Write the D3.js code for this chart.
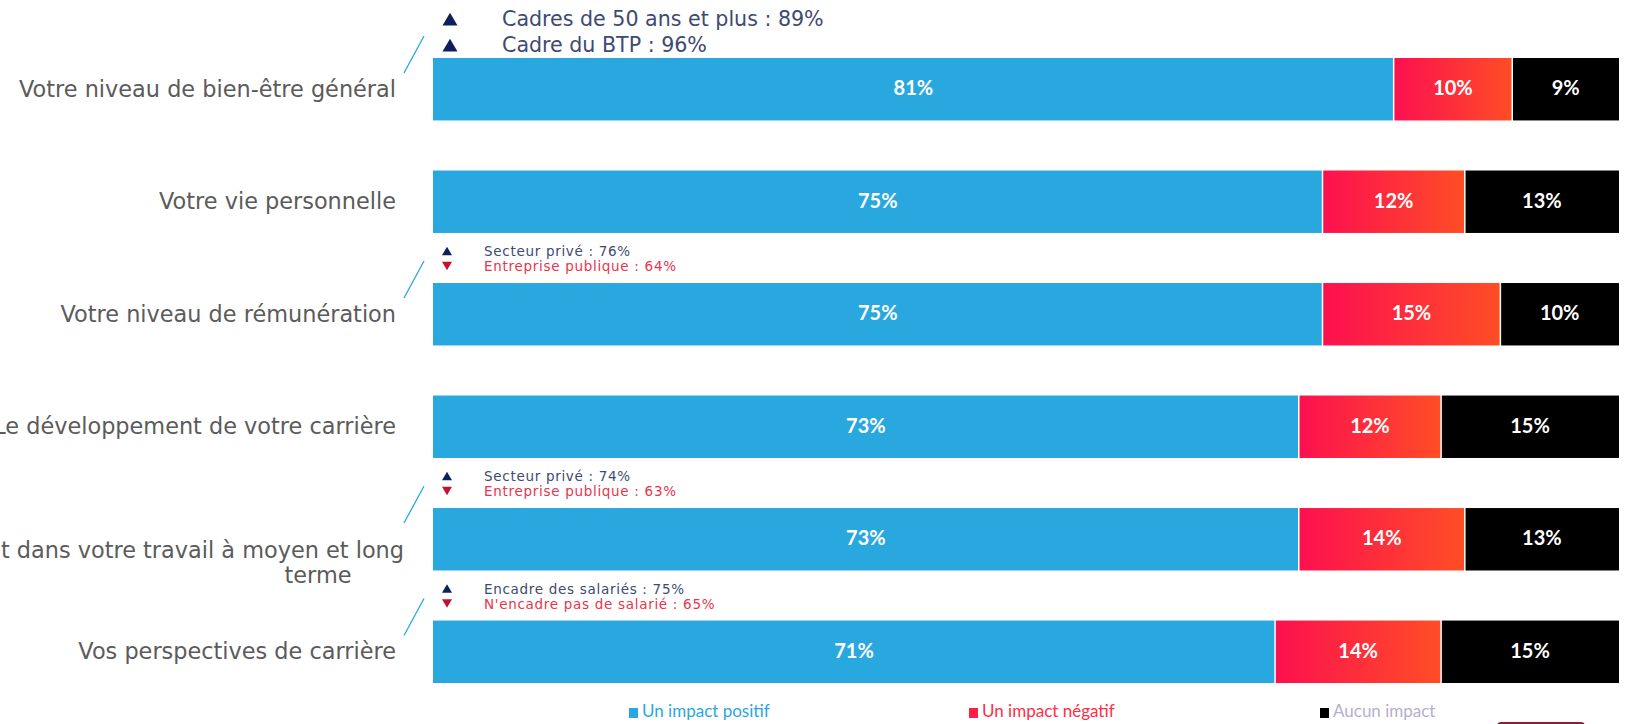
<!DOCTYPE html>
<html>
<head>
<meta charset="utf-8">
<script src="https://cdn.jsdelivr.net/npm/d3@7"></script>
<style>
  body { margin: 0; background: #fff; overflow: hidden; }
  svg { display: block; }
</style>
</head>
<body>
<script>
// data
var categories = [
    "Votre niveau de bien-être général",
    "Votre vie personnelle",
    "Votre niveau de rémunération",
    "Le développement de votre carrière",
    "Votre épanouissement dans votre travail à moyen et long\nterme",
    "Vos perspectives de carrière"
];
var positive = [81, 75, 75, 73, 73, 71];
var negative = [10, 12, 15, 12, 14, 14];
var noImpact = [9, 13, 10, 15, 13, 15];

var seriesNames = ["Un impact positif", "Un impact négatif", "Aucun impact"];

// sub-group highlights above some bars (up = higher, down = lower)
var noteFirst = ["Cadres de 50 ans et plus : 89%", null, "Secteur privé : 76%", null, "Secteur privé : 74%", "Encadre des salariés : 75%"];
var noteFirstDir = ["up", null, "up", null, "up", "up"];
var noteSecond = ["Cadre du BTP : 96%", null, "Entreprise publique : 64%", null, "Entreprise publique : 63%", "N'encadre pas de salarié : 65%"];
var noteSecondDir = ["up", null, "down", null, "down", "down"];

function drawChart() {
    var width = 1626, height = 724;
    var blue = "#29a8df", navy = "#0f1f5c", redText = "#e8344c";
    var gothic = "'DejaVu Sans', 'Open Sans', sans-serif";

    var svg = d3.select("body").append("svg")
        .attr("width", width)
        .attr("height", height);

    // gradient for the negative segments
    var grad = svg.append("defs").append("linearGradient")
        .attr("id", "negGrad")
        .attr("x1", "0%").attr("x2", "100%").attr("y1", "0%").attr("y2", "0%");
    grad.append("stop").attr("offset", "0%").attr("stop-color", "#fc104f");
    grad.append("stop").attr("offset", "100%").attr("stop-color", "#ff4d26");

    var xScale = d3.scaleLinear().domain([0, 100]).range([433, 1619]);
    var yScale = d3.scaleBand()
        .domain(d3.range(categories.length))
        .range([58, 683])
        .paddingInner(0.445)
        .paddingOuter(0);

    var rows = categories.map(function(c, i) {
        return { i: i, label: c, vals: [positive[i], negative[i], noImpact[i]] };
    });

    var fills = [blue, "url(#negGrad)", "#000"];
    var gap = 1.5;

    var rowG = svg.selectAll(".row").data(rows).enter()
        .append("g")
        .attr("class", "row")
        .attr("transform", function(d) { return "translate(0," + yScale(d.i) + ")"; });

    // stacked segments
    rowG.each(function(d) {
        var g = d3.select(this);
        var start = 0;
        d.vals.forEach(function(v, k) {
            var x0 = xScale(start), x1 = xScale(start + v);
            g.append("rect")
                .attr("x", x0 + (k > 0 ? gap / 2 : 0))
                .attr("y", 0)
                .attr("width", x1 - x0 - (k > 0 ? gap / 2 : 0) - (k < 2 ? gap / 2 : 0))
                .attr("height", yScale.bandwidth())
                .attr("fill", fills[k]);
            g.append("text")
                .attr("x", (x0 + x1) / 2)
                .attr("y", yScale.bandwidth() / 2 + 1)
                .attr("text-anchor", "middle")
                .attr("dominant-baseline", "middle")
                .attr("font-family", "Lato, 'Open Sans', sans-serif")
                .attr("font-weight", "bold")
                .attr("font-size", 20)
                .attr("fill", "#fff")
                .text(v + "%");
            start += v;
        });
    });

    // category labels on the left
    rowG.each(function(d) {
        var g = d3.select(this);
        var lines = d.label.split("\n");
        var mid = yScale.bandwidth() / 2;
        if (lines.length === 1) {
            g.append("text")
                .attr("x", 396)
                .attr("y", mid + 1)
                .attr("text-anchor", "end")
                .attr("dominant-baseline", "middle")
                .attr("class", "cat")
                .text(lines[0]);
        } else {
            g.append("text")
                .attr("x", 404).attr("y", mid + 12)
                .attr("text-anchor", "end")
                .attr("dominant-baseline", "middle")
                .attr("class", "cat")
                .text(lines[0]);
            g.append("text")
                .attr("x", 318).attr("y", mid + 37)
                .attr("text-anchor", "middle")
                .attr("dominant-baseline", "middle")
                .attr("class", "cat")
                .text(lines[1]);
        }
    });
    svg.selectAll(".cat")
        .attr("font-family", gothic)
        .attr("font-size", 22.4)
        .attr("fill", "#5b5b5b");

    // highlight notes with triangles and a small slash
    function tri(dir, size) {
        var h = size * 0.85;
        return dir === "up"
            ? "M0," + (-h / 2) + "L" + (size / 2) + "," + (h / 2) + "L" + (-size / 2) + "," + (h / 2) + "Z"
            : "M0," + (h / 2) + "L" + (size / 2) + "," + (-h / 2) + "L" + (-size / 2) + "," + (-h / 2) + "Z";
    }

    rowG.filter(function(d) { return noteFirst[d.i] !== null; }).each(function(d) {
        var g = d3.select(this);
        var big = d.i === 0;
        var off1 = big ? -39 : -32, off2 = big ? -13 : -17;
        var fs = big ? 20.6 : 13.5;
        var tx = big ? 502 : 484, triX = big ? 450 : 447, ts = big ? 15 : 10;

        g.append("line")
            .attr("x1", 404).attr("y1", 15)
            .attr("x2", 424).attr("y2", -22)
            .attr("stroke", blue).attr("stroke-width", 1.3);

        [[noteFirst[d.i], noteFirstDir[d.i], off1], [noteSecond[d.i], noteSecondDir[d.i], off2]].forEach(function(n) {
            var col = n[1] === "up" ? navy : "#c8102e";
            g.append("path")
                .attr("d", tri(n[1], ts))
                .attr("transform", "translate(" + triX + "," + n[2] + ")")
                .attr("fill", col);
            g.append("text")
                .attr("x", tx).attr("y", n[2] + 1)
                .attr("dominant-baseline", "middle")
                .attr("font-family", gothic)
                .attr("font-size", fs)
                .attr("letter-spacing", big ? 0 : 0.7)
                .attr("fill", n[1] === "up" ? "#3e4a72" : redText)
                .text(n[0]);
        });
    });

    // legend
    var legendX = [629, 969, 1320];
    var legendSq = [blue, "#ff1f45", "#000"];
    var legendTxt = [blue, "#ff2d48", "#b6aecb"];
    var legend = svg.selectAll(".legend").data(seriesNames).enter()
        .append("g")
        .attr("transform", function(d, i) { return "translate(" + legendX[i] + ",713)"; });
    legend.append("rect")
        .attr("x", 0).attr("y", -5)
        .attr("width", 9).attr("height", 10)
        .attr("fill", function(d, i) { return legendSq[i]; });
    legend.append("text")
        .attr("x", 13).attr("y", 0)
        .attr("dominant-baseline", "middle")
        .attr("font-family", "Lato, sans-serif")
        .attr("font-size", 17)
        .attr("fill", function(d, i) { return legendTxt[i]; })
        .text(function(d) { return d; });

    // cut-off badge at bottom right
    svg.append("rect")
        .attr("x", 1497).attr("y", 722)
        .attr("width", 88).attr("height", 10).attr("rx", 4)
        .attr("fill", "#8a1f3d");
}

drawChart();
</script>
</body>
</html>
